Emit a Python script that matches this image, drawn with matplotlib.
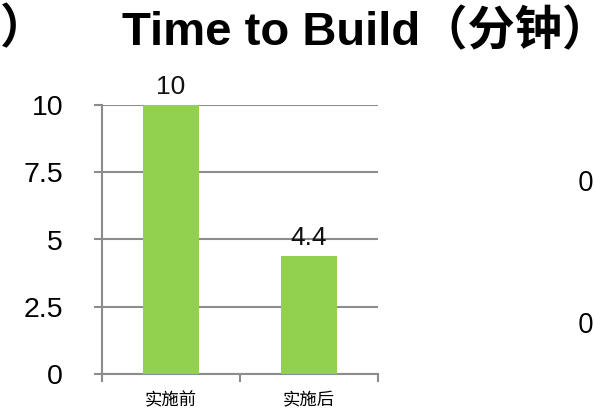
import matplotlib
matplotlib.use("Agg")
import matplotlib.pyplot as plt

plt.rcParams['font.family'] = ['Liberation Sans', 'Noto Sans CJK SC', 'DejaVu Sans']

categories = ['实施前', '实施后']
values = [10, 4.4]
value_labels = ['10', '4.4']
y_ticks = [0, 2.5, 5, 7.5, 10]
y_tick_labels = ['0', '2.5', '5', '7.5', '10']
title = 'Time to Build（分钟）'

bar_color = '#92D050'
grid_color = '#8C8C8C'

fig = plt.figure(figsize=(5.94, 4.11), dpi=100)
ax = fig.add_axes([102 / 594, 37 / 411, 276 / 594, 269 / 411])

x = list(range(len(categories)))
ax.bar(x, values, width=0.4, color=bar_color, zorder=3)

for xi, v, lab in zip(x, values, value_labels):
    ax.annotate(lab, (xi, v), xytext=(0, 4), textcoords='offset points',
                ha='center', va='bottom', fontsize=19, color='#111111')

ax.set_xlim(-0.5, len(categories) - 0.5)
ax.set_ylim(0, 10)
ax.set_yticks(y_ticks)
ax.set_yticklabels(y_tick_labels, fontsize=20.5)
ax.set_xticks(x)
ax.set_xticklabels(categories, fontsize=12.5)
ax.set_xticks([i - 0.5 for i in range(len(categories) + 1)], minor=True)

ax.grid(axis='y', color=grid_color, linewidth=1.5, zorder=0)
ax.tick_params(axis='y', which='major', length=6, width=1.5, color=grid_color, pad=22)
ax.tick_params(axis='x', which='major', length=0, pad=13)
ax.tick_params(axis='x', which='minor', length=6, width=1.5, color=grid_color)

for side in ['top', 'right']:
    ax.spines[side].set_visible(False)
for side in ['left', 'bottom']:
    ax.spines[side].set_color(grid_color)
    ax.spines[side].set_linewidth(1.5)
ax.spines['left'].set_zorder(4)

fig.text(122 / 594, 1 - 33 / 411, title, ha='left', va='center',
         fontsize=34, fontweight='bold')
# pieces of the neighbouring slide charts
fig.text(0, 1 - 31 / 411, '）', ha='left', va='center',
         fontsize=34, fontweight='bold')
fig.text(578 / 594, 1 - 184 / 411, '0', ha='left', va='center',
         fontsize=20, family='Open Sans')
fig.text(578 / 594, 1 - 326 / 411, '0', ha='left', va='center',
         fontsize=20, family='Open Sans')

fig.savefig('out.png', dpi=100)
